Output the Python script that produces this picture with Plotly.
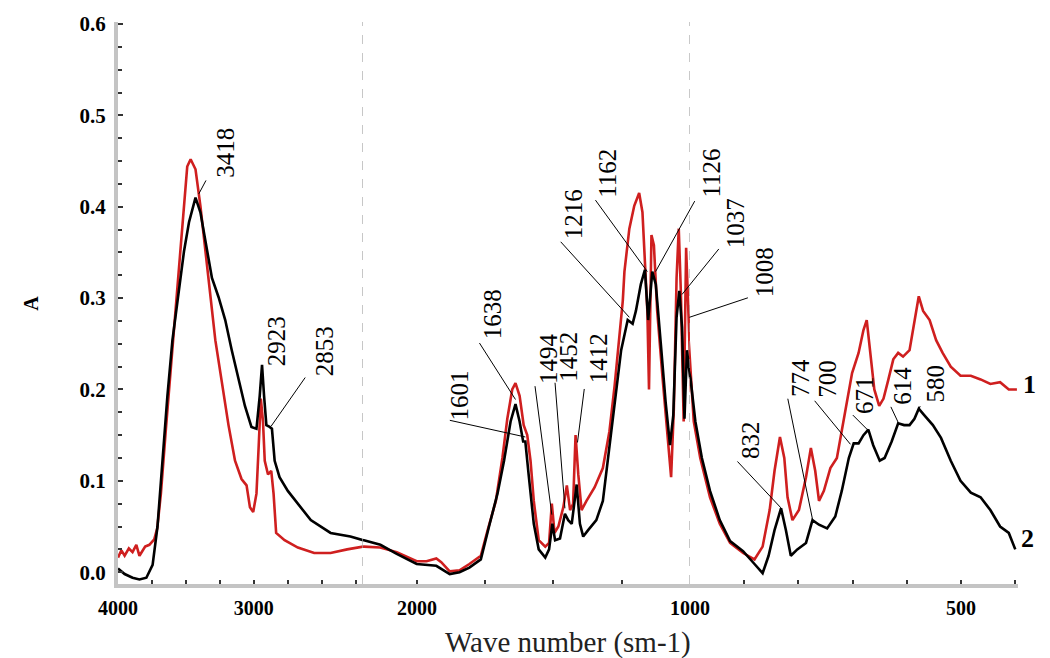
import numpy as np
import plotly.graph_objects as go

# ---------------- data ----------------
# Spectrum 1 (red)
wn_1 = [4000, 3975, 3951, 3920, 3893, 3865, 3842, 3800, 3769, 3733, 3711, 3684, 3647, 3599,
        3551, 3514, 3490, 3465, 3429, 3393, 3356, 3320, 3283, 3235, 3186, 3138, 3090,
        3053, 3028, 3004, 2980, 2963, 2948, 2932, 2919, 2895, 2871, 2854, 2835, 2773,
        2675, 2555, 2434, 2312, 2194, 2135, 2074, 2001, 1965, 1929, 1911, 1880, 1844,
        1808, 1766, 1741, 1711, 1687, 1669, 1651, 1639, 1624, 1609, 1596, 1584, 1572,
        1554, 1530, 1516, 1506, 1496, 1482, 1464, 1451, 1439, 1428, 1419, 1409, 1397,
        1379, 1349, 1319, 1295, 1276, 1258, 1246, 1240, 1222, 1204, 1186, 1174, 1165,
        1156, 1150, 1141, 1132, 1120, 1101, 1083, 1069, 1059, 1049, 1041, 1033, 1023,
        1014, 1005, 996, 993, 981, 963, 945, 926, 902, 881, 866, 853, 844, 834, 826,
        820, 811, 799, 786, 777, 769, 762, 753, 741, 729, 720, 710, 701, 689, 680, 674,
        668, 660, 651, 643, 634, 625, 616, 607, 595, 586, 578, 570, 558, 546, 534, 519,
        501, 482, 464, 446, 428, 412, 397]
abs_1 = [0.016, 0.024, 0.018, 0.026, 0.022, 0.030, 0.018, 0.028, 0.030, 0.036, 0.048, 0.086,
         0.157, 0.247, 0.337, 0.408, 0.444, 0.452, 0.441, 0.401, 0.351, 0.301, 0.254,
         0.208, 0.161, 0.122, 0.102, 0.095, 0.071, 0.066, 0.086, 0.140, 0.190, 0.165,
         0.122, 0.107, 0.111, 0.086, 0.043, 0.035, 0.027, 0.021, 0.021, 0.025, 0.028,
         0.027, 0.022, 0.012, 0.012, 0.015, 0.011, 0.001, 0.002, 0.009, 0.018, 0.046,
         0.078, 0.125, 0.168, 0.200, 0.207, 0.193, 0.161, 0.150, 0.122, 0.078, 0.035,
         0.028, 0.032, 0.075, 0.043, 0.050, 0.071, 0.095, 0.068, 0.075, 0.150, 0.107,
         0.068, 0.078, 0.093, 0.114, 0.154, 0.204, 0.258, 0.297, 0.329, 0.376, 0.401,
         0.415, 0.394, 0.340, 0.286, 0.200, 0.369, 0.358, 0.286, 0.215, 0.150, 0.104,
         0.179, 0.322, 0.376, 0.304, 0.165, 0.355, 0.279, 0.197, 0.165, 0.125, 0.082,
         0.053, 0.032, 0.021, 0.014, 0.028, 0.068, 0.111, 0.148, 0.125, 0.082, 0.057,
         0.068, 0.104, 0.136, 0.111, 0.078, 0.089, 0.114, 0.125, 0.154, 0.190, 0.218,
         0.240, 0.265, 0.276, 0.243, 0.200, 0.182, 0.190, 0.211, 0.233, 0.240, 0.236,
         0.243, 0.272, 0.302, 0.286, 0.276, 0.254, 0.240, 0.225, 0.215, 0.215, 0.211,
         0.206, 0.208, 0.200, 0.200]

# Spectrum 2 (black)
wn_2 = [4000, 3951, 3893, 3842, 3791, 3745, 3709, 3672, 3636, 3599, 3551, 3514, 3477, 3429,
        3393, 3356, 3308, 3259, 3210, 3162, 3114, 3065, 3017, 2980, 2956, 2939, 2924,
        2907, 2883, 2866, 2846, 2810, 2749, 2675, 2580, 2434, 2288, 2194, 2134, 2074,
        2001, 1929, 1880, 1844, 1808, 1766, 1736, 1705, 1681, 1657, 1639, 1624, 1611,
        1603, 1591, 1572, 1554, 1530, 1516, 1504, 1494, 1476, 1458, 1446, 1433, 1415,
        1403, 1391, 1373, 1343, 1319, 1295, 1270, 1252, 1228, 1210, 1198, 1180, 1165,
        1153, 1138, 1125, 1107, 1089, 1073, 1061, 1049, 1039, 1029, 1020, 1011, 999,
        990, 978, 963, 945, 926, 902, 881, 866, 855, 844, 832, 823, 814, 802, 786, 774,
        762, 747, 732, 720, 707, 698, 689, 680, 671, 662, 650, 641, 628, 616, 605, 595,
        586, 578, 568, 552, 537, 519, 501, 482, 464, 446, 428, 412, 400]
abs_2 = [0.004, -0.002, -0.006, -0.008, -0.006, 0.008, 0.050, 0.122, 0.193, 0.254, 0.308,
         0.351, 0.383, 0.410, 0.394, 0.362, 0.322, 0.301, 0.276, 0.243, 0.211, 0.182,
         0.159, 0.157, 0.193, 0.227, 0.193, 0.161, 0.159, 0.157, 0.122, 0.104, 0.089,
         0.075, 0.057, 0.043, 0.039, 0.035, 0.030, 0.020, 0.009, 0.007, -0.002, 0.000,
         0.005, 0.014, 0.050, 0.086, 0.122, 0.165, 0.184, 0.165, 0.143, 0.143, 0.107,
         0.053, 0.025, 0.016, 0.025, 0.053, 0.035, 0.037, 0.064, 0.057, 0.053, 0.096,
         0.053, 0.039, 0.046, 0.057, 0.078, 0.136, 0.200, 0.243, 0.276, 0.272, 0.286,
         0.315, 0.331, 0.276, 0.329, 0.315, 0.251, 0.186, 0.139, 0.172, 0.279, 0.308,
         0.268, 0.168, 0.243, 0.212, 0.165, 0.125, 0.089, 0.057, 0.034, 0.023, 0.009,
         -0.001, 0.018, 0.046, 0.070, 0.046, 0.018, 0.025, 0.032, 0.057, 0.052, 0.048,
         0.061, 0.089, 0.125, 0.141, 0.141, 0.150, 0.156, 0.139, 0.122, 0.125, 0.143,
         0.163, 0.161, 0.161, 0.168, 0.179, 0.172, 0.161, 0.147, 0.122, 0.100, 0.087,
         0.082, 0.068, 0.050, 0.043, 0.025]

# Peak labels: text, label position (wavenumber, A), leader end (wavenumber, A), leader offset px
peak_text = ["3418", "2923", "2853", "1601", "1638", "1494", "1452", "1412", "1216", "1162",
             "1126", "1037", "1008", "832", "774", "700", "671", "614", "580"]
label_wn = [3205, 2835, 2482, 1844, 1723, 1518, 1446, 1337, 1428, 1301,
            960, 917, 862, 887, 796, 747, 677, 607, 549]
label_a = [0.459, 0.253, 0.242, 0.193, 0.282, 0.234, 0.236, 0.234, 0.392, 0.437,
           0.437, 0.382, 0.328, 0.145, 0.212, 0.212, 0.194, 0.204, 0.206]
lead_wn = [3405, None, 2871, 1603, 1639, 1506, 1458, 1412, 1222, 1156,
           1126, 1029, 1002, 832, 774, 704, 671, 616, 578]
lead_a = [0.414, None, 0.160, 0.148, 0.189, 0.063, 0.070, 0.142, 0.279, 0.329,
          0.329, 0.304, 0.279, 0.0703, 0.058, 0.140, 0.155, 0.164, 0.178]
lead_dx = [8, 0, 35, -77, -37, -17, -10, 7, -70, -53, 40, 38, 60, -45, -25, -37, -17, -8, 2]
lead_dy = [-15, 0, -50, -17, -58, -130, -127, -55, -77, -73, -72, -47, -20, -48, -122, -45, -17, -17, -5]

# Broken wavenumber axis: (high, low, axis id, domain)
segments = [(4000, 2200, "x", [0.0, 0.2715]),
            (2200, 1000, "x2", [0.2715, 0.6355]),
            (1000, 395, "x3", [0.6355, 1.0])]
seg_ticks = [[4000, 3750, 3500, 3250, 3000, 2750, 2500, 2250],
             [2000, 1750, 1500, 1250, 1000],
             [900, 800, 700, 600, 500, 400]]
seg_ticktext = [["4000", "", "", "", "3000", "", "", ""],
                ["2000", "", "", "", "1000"],
                ["", "", "", "", "500", ""]]
y_ticks = [0.0, 0.1, 0.2, 0.3, 0.4, 0.5, 0.6]

RED = "#cf1f1f"
SERIF = "Liberation Serif"


def axis_for(w):
    for hi, lo, ax, _ in segments:
        if lo <= w <= hi:
            return ax
    return "x3"


def piece(w, a, lo, hi):
    w = np.asarray(w, float)
    a = np.asarray(a, float)
    idx = np.where((w >= lo) & (w <= hi))[0]
    i0 = max(idx[0] - 1, 0)
    i1 = min(idx[-1] + 1, len(w) - 1)
    return w[i0:i1 + 1], a[i0:i1 + 1]


fig = go.Figure()
for wn, ab, col in [(wn_1, abs_1, RED), (wn_2, abs_2, "black")]:
    for hi, lo, ax, _ in segments:
        sw, sa = piece(wn, ab, lo, hi)
        fig.add_trace(go.Scatter(x=sw, y=sa, xaxis=ax, yaxis="y", mode="lines",
                                 line=dict(color=col, width=2.6), showlegend=False,
                                 hoverinfo="skip"))

axis_common = dict(showline=True, linecolor="#c4c4c4", linewidth=4, ticks="inside",
                   ticklen=4, tickwidth=2, tickcolor="#333333", showgrid=False,
                   zeroline=False, anchor="y",
                   tickfont=dict(family=SERIF, size=20, color="black", weight="bold"),
                   ticklabelstandoff=3)
layout = dict(width=1050, height=658, margin=dict(l=118, r=22, t=13, b=74),
              paper_bgcolor="white", plot_bgcolor="white", showlegend=False)
names = ["xaxis", "xaxis2", "xaxis3"]
for (hi, lo, ax, dom), tv, tt, nm in zip(segments, seg_ticks, seg_ticktext, names):
    layout[nm] = dict(axis_common, domain=dom, range=[hi, lo], tickvals=tv, ticktext=tt)

layout["yaxis"] = dict(range=[-0.0129, 0.6022], anchor="x", showline=True,
                       linecolor="#c4c4c4", linewidth=4, ticks="inside", ticklen=5,
                       tickwidth=2, tickcolor="#333333", showgrid=False, zeroline=False,
                       tickvals=y_ticks, ticktext=[f"{v:.1f}" for v in y_ticks],
                       tickfont=dict(family=SERIF, size=21, color="black", weight="bold"),
                       ticklabelstandoff=4, ticklabeloverflow="allow",
                       minor=dict(tick0=0, dtick=0.025, ticks="inside", ticklen=4,
                                  tickwidth=2, tickcolor="#333333"))
fig.update_layout(**layout)

# dashed lines at the scale breaks
for wv in [2200, 1000]:
    fig.add_shape(type="line", xref="x2", yref="paper", x0=wv, x1=wv, y0=0, y1=1,
                  line=dict(color="#9a9a9a", width=1, dash="dash"))

# peak labels and leader lines
for t, lw, la, pw, pa, dx, dy in zip(peak_text, label_wn, label_a, lead_wn, lead_a,
                                     lead_dx, lead_dy):
    fig.add_annotation(x=lw, y=la, xref=axis_for(lw), yref="y", text=t, showarrow=False,
                       textangle=-90, xanchor="center", yanchor="middle",
                       font=dict(family=SERIF, size=25, color="black"))
    if pw is not None:
        fig.add_annotation(x=pw, y=pa, xref=axis_for(pw), yref="y", text="",
                           showarrow=True, arrowhead=0, arrowwidth=1, arrowcolor="black",
                           ax=dx, ay=dy, standoff=0, startstandoff=0)

# series numbers
fig.add_annotation(x=1.0132, y=0.205, xref="paper", yref="y", text="1", showarrow=False,
                   xanchor="center", yanchor="middle",
                   font=dict(family=SERIF, size=26, color="black", weight="bold"))
fig.add_annotation(x=1.0110, y=0.0366, xref="paper", yref="y", text="2", showarrow=False,
                   xanchor="center", yanchor="middle",
                   font=dict(family=SERIF, size=26, color="black", weight="bold"))

# axis titles
fig.add_annotation(x=-0.0967, y=0.295, xref="paper", yref="y", text="A", showarrow=False,
                   textangle=-90, xanchor="center", yanchor="middle",
                   font=dict(family=SERIF, size=20, color="black", weight="bold"))
fig.add_annotation(x=0.4995, y=-0.1033, xref="paper", yref="paper",
                   text="Wave number (sm-1)", showarrow=False, xanchor="center",
                   yanchor="middle", font=dict(family=SERIF, size=29, color="#222222"))

# remove the default page margin so the 1050x658 figure fills the window exactly
fig.write_html("out.html", config={"displayModeBar": False},
               post_script="document.body.style.margin='0';")
